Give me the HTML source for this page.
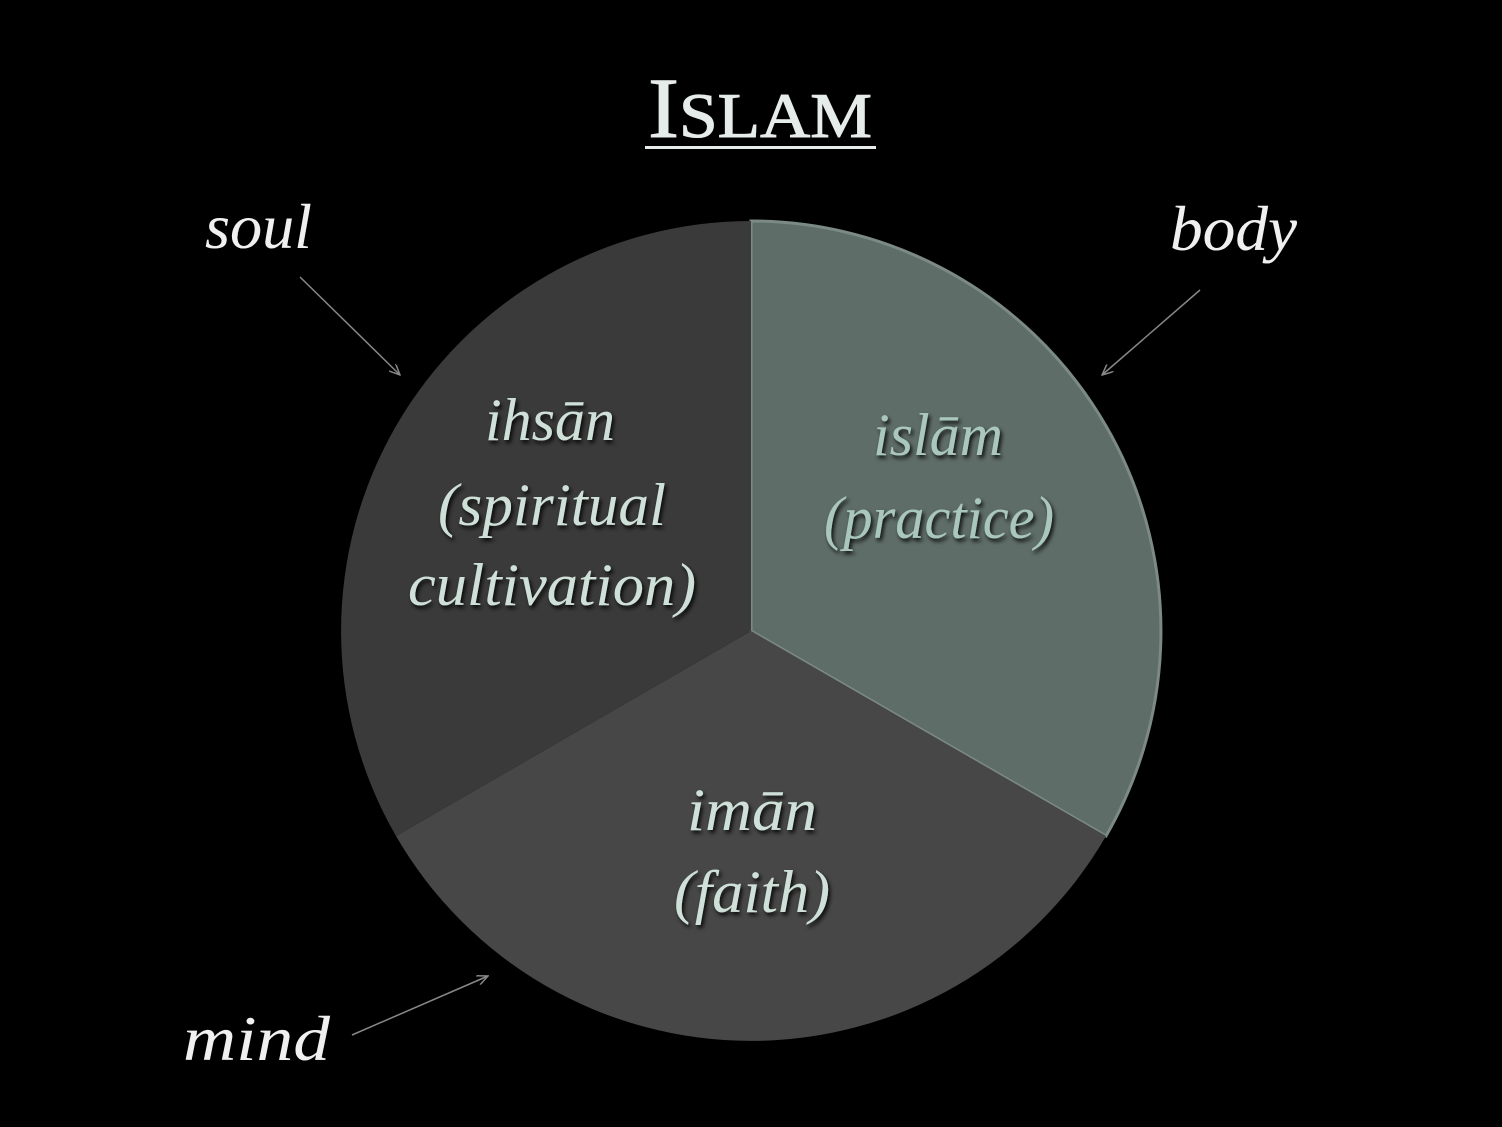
<!DOCTYPE html>
<html><head><meta charset="utf-8"><style>
html,body{margin:0;padding:0;background:#000;}
svg{display:block;}
text{font-family:"Liberation Serif",serif;}
</style></head><body>
<svg width="1502" height="1127" viewBox="0 0 1502 1127" xmlns="http://www.w3.org/2000/svg">
<defs>
<marker id="ah" markerWidth="12" markerHeight="10" refX="11" refY="5" orient="auto" markerUnits="userSpaceOnUse">
<path d="M0,0 L11,5 L0,10" fill="none" stroke="#888" stroke-width="1.5"/>
</marker>
<filter id="sh" x="-10%" y="-10%" width="120%" height="130%">
<feDropShadow dx="2" dy="3" stdDeviation="2" flood-color="#000" flood-opacity="0.9"/>
</filter>
</defs>
<rect width="1502" height="1127" fill="#000"/>
<path d="M751,631 L751,221 A410,410 0 0 1 1106,836 Z" fill="#5f6d68" stroke="#7c8a85" stroke-width="3"/>
<path d="M751,631 L1106,836 A410,410 0 0 1 396,836 Z" fill="#474747"/>
<path d="M751,631 L396,836 A410,410 0 0 1 751,221 Z" fill="#3a3a3a"/>
<text x="648" y="137" textLength="224" lengthAdjust="spacingAndGlyphs" fill="#e6ece9" stroke="#e6ece9" stroke-width="1" font-size="86" filter="url(#sh)">I<tspan font-size="64">SLAM</tspan></text>
<rect x="645" y="146" width="231" height="3" fill="#e6ece9"/>
<g font-style="italic" font-size="64" fill="#f0f0f0" filter="url(#sh)">
<text x="205" y="248" textLength="107" lengthAdjust="spacingAndGlyphs">soul</text>
<text x="1170" y="250" textLength="127" lengthAdjust="spacingAndGlyphs">body</text>
<text x="183" y="1060" textLength="147" lengthAdjust="spacingAndGlyphs">mind</text>
</g>
<line x1="300" y1="277" x2="400" y2="375" stroke="#888" stroke-width="1.5" marker-end="url(#ah)"/>
<line x1="1200" y1="290" x2="1102" y2="375" stroke="#888" stroke-width="1.5" marker-end="url(#ah)"/>
<line x1="352" y1="1035" x2="488" y2="976" stroke="#888" stroke-width="1.5" marker-end="url(#ah)"/>
<g font-style="italic" font-size="60" fill="#cfe0d9" filter="url(#sh)" lengthAdjust="spacingAndGlyphs">
<text x="485" y="440" textLength="130" lengthAdjust="spacingAndGlyphs">ihsān</text>
<text x="438" y="525" textLength="228" lengthAdjust="spacingAndGlyphs">(spiritual</text>
<text x="408" y="605" textLength="288" lengthAdjust="spacingAndGlyphs">cultivation)</text>
<text x="873" y="455" textLength="130" lengthAdjust="spacingAndGlyphs" fill="#a9c7bd">islām</text>
<text x="824" y="538" textLength="230" lengthAdjust="spacingAndGlyphs" fill="#a9c7bd">(practice)</text>
<text x="687" y="830" textLength="130" lengthAdjust="spacingAndGlyphs">imān</text>
<text x="674" y="912" textLength="156" lengthAdjust="spacingAndGlyphs">(faith)</text>
</g>
</svg>
</body></html>
